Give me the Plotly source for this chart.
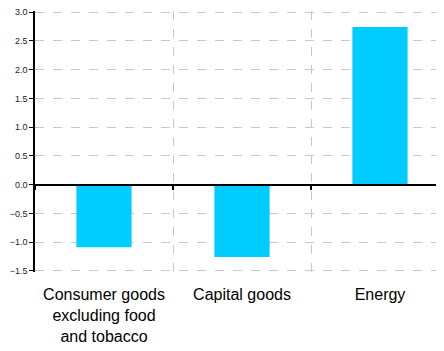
import plotly.graph_objects as go

categories = ["Consumer goods<br>excluding food<br>and tobacco", "Capital goods", "Energy"]
values = [-1.09, -1.26, 2.74]
y_ticks = [-1.5, -1.0, -0.5, 0.0, 0.5, 1.0, 1.5, 2.0, 2.5, 3.0]

fig = go.Figure()
fig.add_trace(go.Bar(x=categories, y=values, marker=dict(color="#00CCFF", line=dict(width=0)),
                     width=0.4, showlegend=False))
fig.add_trace(go.Scatter(x=categories, y=[0]*len(categories), xaxis="x2", mode="markers",
                         marker=dict(opacity=0), showlegend=False, hoverinfo="skip"))

ymin, ymax = -1.52, 3.02
fig.update_layout(
    width=444, height=351,
    margin=dict(l=27, r=3, t=3, b=87),
    paper_bgcolor="white", plot_bgcolor="white",
    font=dict(family="Liberation Sans, Arial, sans-serif", color="#000"),
    xaxis=dict(type="category", categoryarray=categories, range=[-0.5, 2.5],
               tickson="boundaries", showgrid=True, gridcolor="#c8c8c8", griddash="dash", gridwidth=1,
               ticks="", ticklabelstandoff=11, automargin=False,
               tickfont=dict(size=16, color="#000"), showline=False, zeroline=False),
    xaxis2=dict(type="category", overlaying="x", matches="x", anchor="free",
                position=(0 - ymin) / (ymax - ymin), showline=True, linecolor="#000", linewidth=1.5,
                tickson="boundaries", ticks="outside", ticklen=5, tickcolor="#000", tickwidth=1.5,
                showticklabels=False, showgrid=False, zeroline=False, automargin=False),
    yaxis=dict(range=[ymin, ymax], tickvals=y_ticks, tickformat=".1f", automargin=False,
               ticklabeloverflow="allow",
               showgrid=True, gridcolor="#c8c8c8", griddash="dash", gridwidth=1,
               showline=True, linecolor="#000", linewidth=1.5,
               ticks="outside", ticklen=4, tickcolor="#000", tickwidth=1,
               tickfont=dict(size=9, color="#222"), zeroline=False),
)

fig.write_html("out.html")
